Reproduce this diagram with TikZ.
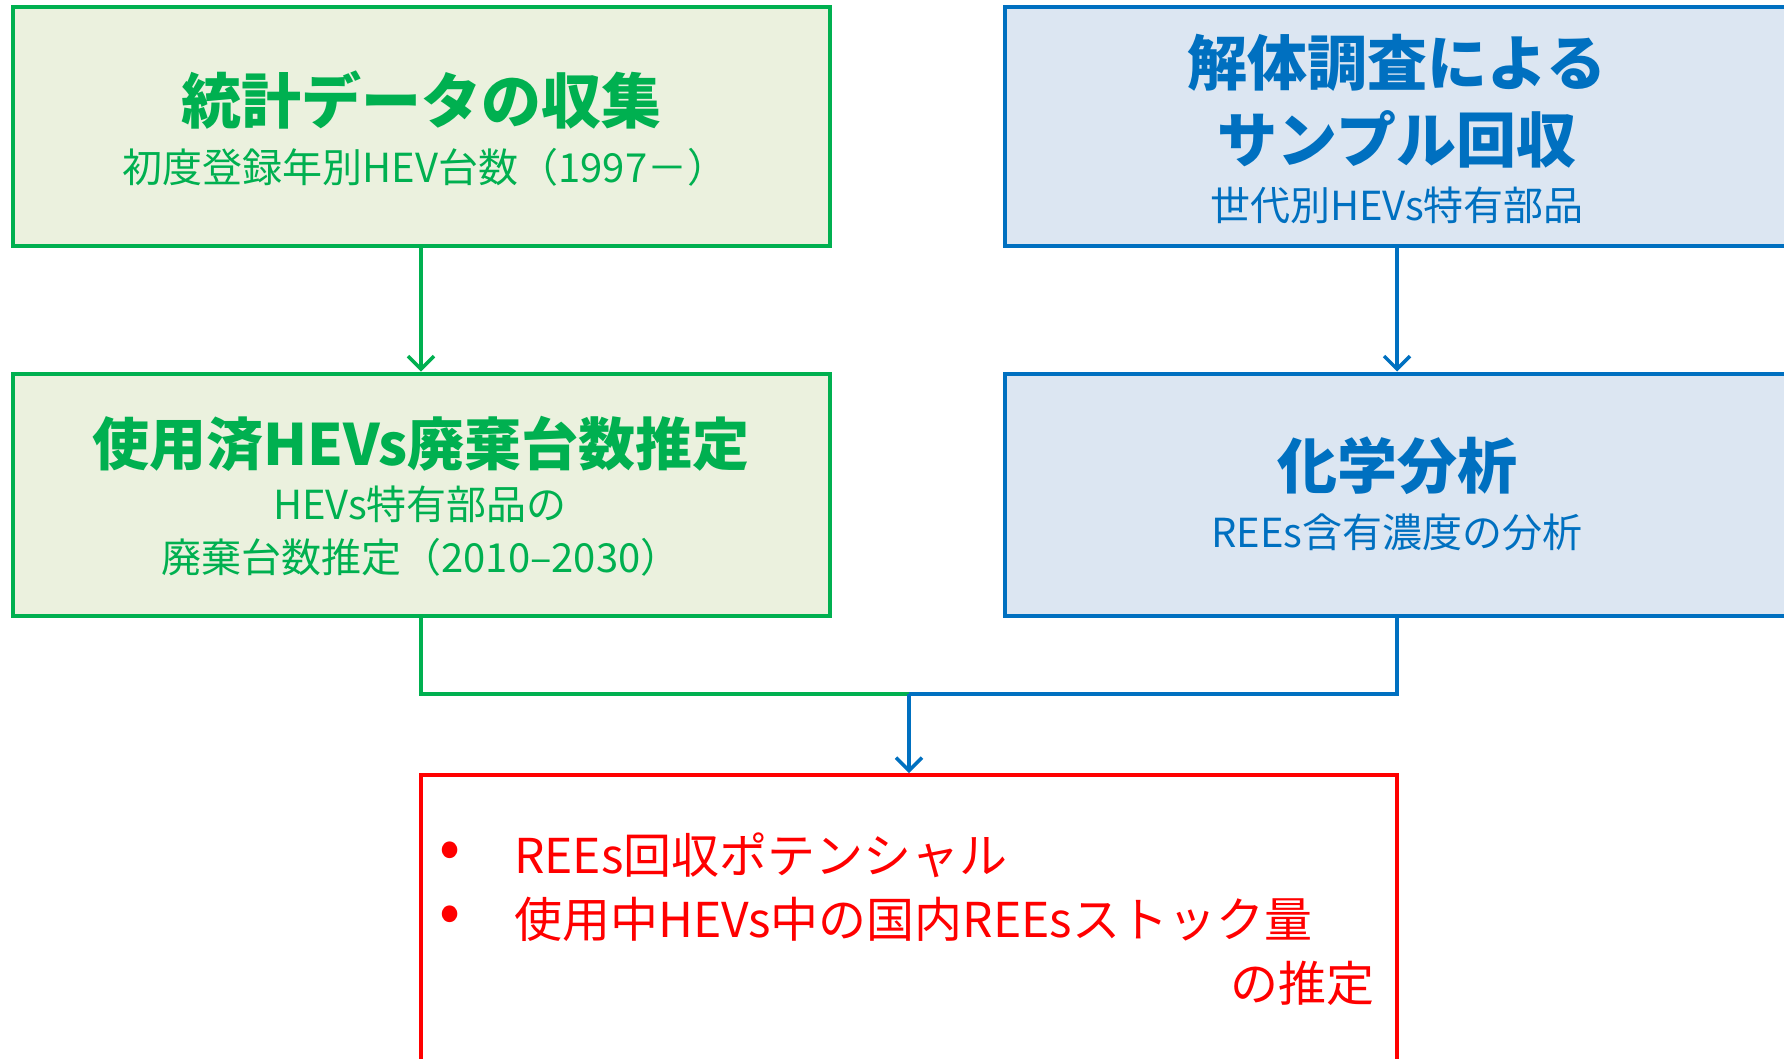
\documentclass[tikz,border=0pt]{standalone}
\usepackage{fontspec}
\setmainfont{Noto Sans CJK JP}
\usetikzlibrary{arrows.meta}
\definecolor{gline}{HTML}{00B050}
\definecolor{gfill}{HTML}{EBF1DE}
\definecolor{bline}{HTML}{0070C0}
\definecolor{bfill}{HTML}{DCE6F2}
\definecolor{rline}{HTML}{FF0000}
\tikzset{
  gbox/.style={draw=gline,fill=gfill,line width=4pt,rectangle,inner sep=0pt},
  bbox/.style={draw=bline,fill=bfill,line width=4pt,rectangle,inner sep=0pt},
  rbox/.style={draw=rline,fill=white,line width=4pt,rectangle,inner sep=0pt},
  txt/.style={inner sep=0pt,align=center},
  ttl/.style={txt,font=\fontsize{60}{76}\selectfont\bfseries},
  sub/.style={txt,font=\fontsize{40}{53}\selectfont},
  rtxt/.style={inner sep=0pt,text=rline,font=\fontsize{48}{60}\selectfont},
  gcon/.style={draw=gline,line width=3.2pt},
  bcon/.style={draw=bline,line width=3.2pt},
  tip/.style={-{Straight Barb[length=13pt,width=26pt,line width=3.5pt]}},
}
\begin{document}
\begin{tikzpicture}[x=1pt,y=-1pt]
\clip (0,0) rectangle (1784,1058);
\fill[white] (0,0) rectangle (1784,1058);
% boxes
\node[gbox,minimum width=817pt,minimum height=239pt] (g1) at (421,126.5) {};
\node[gbox,minimum width=817pt,minimum height=242pt] (g2) at (421,494.5) {};
\node[bbox,minimum width=784pt,minimum height=239pt] (b1) at (1397,126.5) {};
\node[bbox,minimum width=784pt,minimum height=242pt] (b2) at (1397,494.5) {};
\node[rbox,minimum width=976pt,minimum height=300pt] (r) at (909,925) {};
% texts
\node[ttl,text=gline] (g1t) at (421,100) {統計データの収集};
\node[sub,text=gline] (g1s) at (425,167) {初度登録年別HEV台数（1997－）};
\node[ttl,text=gline,font=\fontsize{57}{70}\selectfont\bfseries] (g2t) at (421,444) {使用済HEVs廃棄台数推定};
\node[sub,text=gline] (g2s1) at (420,504) {HEVs特有部品の};
\node[sub,text=gline] (g2s2) at (421,557) {廃棄台数推定（2010–2030）};
\node[ttl,text=bline] (b1t1) at (1397,63) {解体調査による};
\node[ttl,text=bline] (b1t2) at (1397,139) {サンプル回収};
\node[sub,text=bline] (b1s) at (1397,205) {世代別HEVs特有部品};
\node[ttl,text=bline] (b2t) at (1397,466) {化学分析};
\node[sub,text=bline] (b2s) at (1397,532) {REEs含有濃度の分析};
\node[rtxt,font=\fontsize{62}{60}\selectfont] (rb1) at (450,855) {•};
\node[rtxt,font=\fontsize{62}{60}\selectfont] (rb2) at (450,919) {•};
\node[rtxt,anchor=west] (r1) at (514,855) {REEs回収ポテンシャル};
\node[rtxt,anchor=west] (r2) at (514,919) {使用中HEVs中の国内REEsストック量};
\node[rtxt,anchor=east] (r3) at (1375,983) {の推定};
% connectors
\coordinate (m) at (909,694);
\draw[gcon,tip] (g1.south) -- (g2.north);
\draw[bcon,tip] (b1.south) -- (b2.north);
\draw[gcon] (g2.south) |- (m);
\draw[bcon] (b2.south) |- (m);
\draw[bcon,tip] (m) -- (r.north);
\end{tikzpicture}
\end{document}
